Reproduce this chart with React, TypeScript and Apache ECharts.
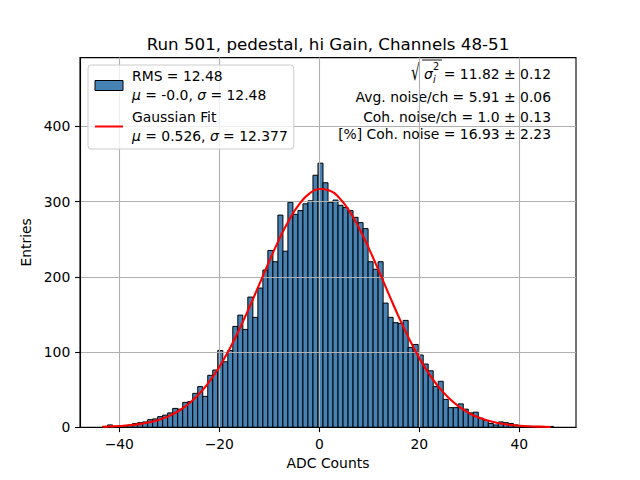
import React, { useEffect, useRef } from "react";
import * as echarts from "echarts";

const FONT = "DejaVu Sans";
const TITLE = "Run 501, pedestal, hi Gain, Channels 48-51";

// Histogram: 90 equal bins between HIST_MIN and HIST_MAX
const HIST_MIN = -43.35;
const HIST_MAX = 46.83;
const counts = [
  1, 3, 1, 1, 2, 3, 5, 6, 7, 10,
  11, 14, 16, 19, 25, 24, 33, 34, 45, 54,
  41, 69, 76, 102, 87, 102, 134, 149, 130, 173,
  146, 185, 209, 235, 220, 282, 234, 299, 283, 288,
  297, 301, 335, 351, 325, 299, 302, 295, 292, 288,
  279, 272, 264, 220, 210, 220, 165, 146, 139, 138,
  142, 106, 110, 96, 84, 75, 54, 61, 37, 26,
  26, 31, 24, 19, 20, 12, 9, 5, 3, 7,
  6, 5, 3, 2, 1, 1, 1, 1, 0, 1,
];

// Gaussian fit curve
const fitX = [
  -43.35, -42, -40, -38, -36, -34, -32, -30, -28, -26, -24, -22, -20, -18, -16,
  -14, -12, -10, -8, -6, -4, -2, 0, 2, 4, 6, 8, 10, 12, 14, 16, 18, 20, 22, 24,
  26, 28, 30, 32, 34, 36, 38, 40, 42, 44, 46.3,
];
const fitY = [
  0.6, 0.9, 1.5, 2.5, 4.1, 6.5, 10.0, 15.1, 22.2, 31.9, 44.5, 60.5, 80.1, 103.4,
  130.0, 159.2, 190.0, 220.8, 250.1, 275.9, 296.5, 310.5, 316.7, 314.8, 304.8,
  287.5, 264.2, 236.5, 206.3, 175.3, 145.1, 117.0, 91.9, 70.4, 52.5, 38.1, 27.0,
  18.6, 12.5, 8.2, 5.2, 3.2, 2.0, 1.2, 0.7, 0.3,
];

const xTicks = [-40, -20, 0, 20, 40];
const yTicks = [0, 100, 200, 300, 400];
const X_MIN = -47.86;
const X_MAX = 51.34;
const Y_MAX = 491.4;

const histName = "RMS = 12.48\nμ = -0.0, σ = 12.48";
const fitName = "Gaussian Fit\nμ = 0.526, σ = 12.377";

const statLines = [
  "Avg. noise/ch = 5.91 ± 0.06",
  "Coh. noise/ch = 1.0 ± 0.13",
  "[%] Coh. noise = 16.93 ± 2.23",
];
const sqrtValue = " = 11.82 ± 0.12";

export default function App() {
  const ref = useRef<HTMLDivElement>(null);

  useEffect(() => {
    document.body.style.margin = "0";
    if (!ref.current) return;
    const chart = echarts.init(ref.current, undefined, { renderer: "svg" });

    const nb = counts.length;
    const w = (HIST_MAX - HIST_MIN) / nb;
    const histData = counts.map((c, j) => [HIST_MIN + j * w, HIST_MIN + (j + 1) * w, c]);
    const fitData = fitX.map((x, i) => [x, fitY[i]]);

    const minus = (v: number) => (v < 0 ? "\u2212" + Math.abs(v) : String(v));

    const legendFormatter = (name: string) => {
      if (name === histName) return "RMS = 12.48\n{i|μ} = -0.0, {i|σ} = 12.48";
      return "Gaussian Fit\n{i|μ} = 0.526, {i|σ} = 12.377";
    };

    const statY = [97, 117, 134];

    const option: any = {
      animation: false,
      textStyle: { fontFamily: FONT },
      title: {
        text: TITLE,
        left: 328,
        top: 34,
        textAlign: "center",
        padding: 0,
        textStyle: {
          fontSize: 16.7,
          fontWeight: "normal",
          color: "#000",
          fontFamily: FONT,
          lineHeight: 20,
        },
      },
      grid: {
        left: 80,
        top: 57.6,
        width: 496,
        height: 369.6,
        containLabel: false,
        show: true,
        borderColor: "#000",
        borderWidth: 1.1,
        backgroundColor: "transparent",
      },
      legend: {
        left: 88,
        top: 65,
        orient: "vertical",
        padding: [1.5, 6, 3.5, 6],
        itemGap: 3,
        itemWidth: 28,
        itemHeight: 10,
        selectedMode: false,
        backgroundColor: "rgba(255,255,255,0.8)",
        borderColor: "#cccccc",
        borderWidth: 1,
        borderRadius: 3,
        formatter: legendFormatter,
        textStyle: {
          fontFamily: FONT,
          fontSize: 13.9,
          color: "#000",
          lineHeight: 19,
          padding: [0, 0, 0, 4],
          rich: {
            i: { fontFamily: FONT, fontSize: 13.9, fontStyle: "italic", color: "#000", lineHeight: 19 },
          },
        },
        data: [
          {
            name: histName,
            icon: "rect",
            itemStyle: { color: "#4682b4", borderColor: "#000", borderWidth: 1 },
          },
          { name: fitName, itemStyle: { opacity: 0 } },
        ],
      },
      xAxis: {
        type: "value",
        min: X_MIN,
        max: X_MAX,
        z: 1.5,
        name: "ADC Counts",
        nameLocation: "middle",
        nameGap: 27,
        nameTextStyle: { fontSize: 13.9, color: "#000", fontFamily: FONT },
        axisLine: { show: true, onZero: false, lineStyle: { color: "#000", width: 1.1 } },
        axisTick: { show: true, customValues: xTicks, length: 4.9, lineStyle: { color: "#000", width: 1.1 } },
        axisLabel: {
          customValues: xTicks,
          margin: 9.7,
          fontSize: 13.9,
          color: "#000",
          fontFamily: FONT,
          formatter: (v: number) => minus(v),
        },
        splitLine: { show: true, lineStyle: { color: "#b0b0b0", width: 1.1 } },
      },
      yAxis: {
        type: "value",
        min: 0,
        max: Y_MAX,
        z: 1.5,
        name: "Entries",
        nameLocation: "middle",
        nameGap: 38,
        nameRotate: 90,
        nameTextStyle: { fontSize: 13.9, color: "#000", fontFamily: FONT },
        axisLine: { show: true, onZero: false, lineStyle: { color: "#000", width: 1.1 } },
        axisTick: { show: true, customValues: yTicks, length: 4.9, lineStyle: { color: "#000", width: 1.1 } },
        axisLabel: {
          customValues: yTicks,
          margin: 9.7,
          fontSize: 13.9,
          color: "#000",
          fontFamily: FONT,
        },
        splitLine: { show: true, lineStyle: { color: "#b0b0b0", width: 1.1 } },
      },
      series: [
        {
          name: histName,
          type: "custom",
          z: 1,
          itemStyle: { color: "#4682b4", borderColor: "#000", borderWidth: 1 },
          encode: { x: [0, 1], y: 2 },
          data: histData,
          renderItem: (params: any, api: any) => {
            const x0 = api.value(0);
            const x1 = api.value(1);
            const c = api.value(2);
            const p0 = api.coord([x0, c]);
            const p1 = api.coord([x1, 0]);
            return {
              type: "rect",
              shape: { x: p0[0], y: p0[1], width: p1[0] - p0[0], height: p1[1] - p0[1] },
              style: { fill: "#4682b4", stroke: "#000", lineWidth: 1 },
            };
          },
        },
        {
          name: fitName,
          type: "line",
          z: 2,
          data: fitData,
          symbol: "none",
          smooth: true,
          lineStyle: { color: "#ff0000", width: 2.1 },
          itemStyle: { color: "#ff0000" },
        },
      ],
      graphic: [
        {
          type: "group",
          z: 100,
          children: [
            {
              type: "text",
              x: 551,
              y: 74,
              style: { text: sqrtValue, align: "right", verticalAlign: "middle", fontSize: 13.9, fontFamily: FONT, fill: "#000" },
            },
            {
              type: "text",
              x: 411,
              y: 72,
              scaleY: 1.6,
              style: { text: "√", align: "left", verticalAlign: "middle", fontSize: 13.9, fontFamily: FONT, fill: "#000" },
            },
            {
              type: "line",
              shape: { x1: 422, y1: 60, x2: 442, y2: 60 },
              style: { stroke: "#000", lineWidth: 0.9 },
            },
            {
              type: "text",
              x: 424,
              y: 74,
              style: { text: "σ", align: "left", verticalAlign: "middle", fontSize: 13.9, fontStyle: "italic", fontFamily: FONT, fill: "#000" },
            },
            {
              type: "text",
              x: 433,
              y: 66,
              style: { text: "2", align: "left", verticalAlign: "middle", fontSize: 9.7, fontFamily: FONT, fill: "#000" },
            },
            {
              type: "text",
              x: 433,
              y: 79,
              style: { text: "i", align: "left", verticalAlign: "middle", fontSize: 9.7, fontStyle: "italic", fontFamily: FONT, fill: "#000" },
            },
            ...statLines.map((t, i) => ({
              type: "text",
              x: 551,
              y: statY[i],
              style: { text: t, align: "right", verticalAlign: "middle", fontSize: 13.9, fontFamily: FONT, fill: "#000" },
            })),
          ],
        },
      ],
    };

    chart.setOption(option);
    return () => chart.dispose();
  }, []);

  return (
    <div
      ref={ref}
      style={{ position: "fixed", left: 0, top: 0, width: 640, height: 480, background: "#fff" }}
    />
  );
}
